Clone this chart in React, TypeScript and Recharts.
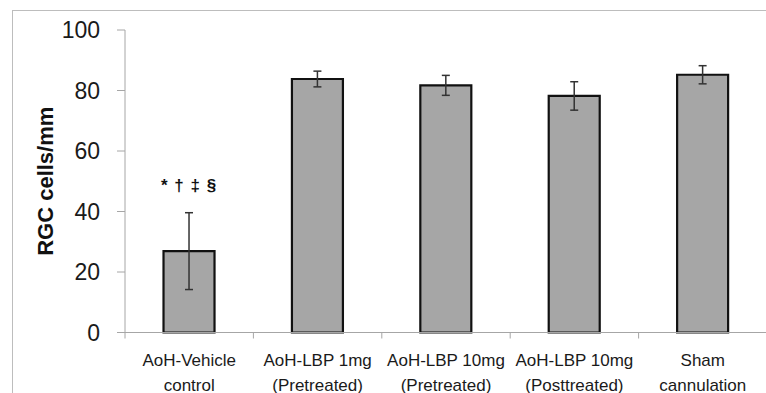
import React from 'react';
import { BarChart, Bar, XAxis, YAxis, ErrorBar, LabelList } from 'recharts';

const categories = [
  'AoH-Vehicle\ncontrol',
  'AoH-LBP 1mg\n(Pretreated)',
  'AoH-LBP 10mg\n(Pretreated)',
  'AoH-LBP 10mg\n(Posttreated)',
  'Sham\ncannulation',
];
const rgcValues = [26.9, 83.8, 81.7, 78.2, 85.2];
const rgcErrors = [12.7, 2.6, 3.3, 4.7, 3.0];
const notes = ['* † ‡ §', '', '', '', ''];
const yTicks = [0, 20, 40, 60, 80, 100];

const data = categories.map((name, i) => ({
  name,
  value: rgcValues[i],
  err: rgcErrors[i],
  note: notes[i],
}));

const FONT = '"Liberation Sans", Arial, sans-serif';
const AXIS_GRAY = '#a6a6a6';
const TICK = 6;

// Excel-style ticks sit on the category boundaries, labels under the centre
const CategoryTick = (props: any) => {
  const { x, y, payload, index } = props;
  const half = payload.offset || 0;
  const lines = String(payload.value).split('\n');
  return (
    <g>
      <line x1={x - half} x2={x - half} y1={y - TICK} y2={y} stroke={AXIS_GRAY} strokeWidth={1} />
      {index === categories.length - 1 && (
        <line x1={x + half} x2={x + half} y1={y - TICK} y2={y} stroke={AXIS_GRAY} strokeWidth={1} />
      )}
      <text x={x} y={y} textAnchor="middle" fontFamily={FONT} fontSize={17} fill="#1a1a1a">
        {lines.map((l, i) => (
          <tspan key={i} x={x} dy={i === 0 ? 27 : 25}>{l}</tspan>
        ))}
      </text>
    </g>
  );
};

const YLabel = ({ viewBox }: any) => {
  const cx = viewBox.x + 45;
  const cy = viewBox.y + viewBox.height / 2;
  return (
    <text
      x={cx}
      y={cy}
      transform={`rotate(-90 ${cx} ${cy})`}
      textAnchor="middle"
      dominantBaseline="central"
      fontFamily={FONT}
      fontWeight="bold"
      fontSize={22}
      fill="#111"
    >
      RGC cells/mm
    </text>
  );
};

export default function App() {
  return (
    <div style={{ position: 'absolute', left: 0, top: 0, width: 766, height: 393, overflow: 'hidden', background: '#fff' }}>
      <div
        style={{
          position: 'absolute',
          left: 12,
          top: 10,
          width: 800,
          height: 420,
          borderTop: '1.5px solid #bdbdbd',
          borderLeft: '1.5px solid #bdbdbd',
        }}
      />
      <div style={{ position: 'absolute', left: 0, top: 0 }}>
        <BarChart
          width={767}
          height={393}
          data={data}
          margin={{ top: 30, right: 0, bottom: 0, left: 0 }}
          barCategoryGap="30%"
        >
          <XAxis
            dataKey="name"
            height={60.5}
            axisLine={{ stroke: AXIS_GRAY, strokeWidth: 1 }}
            tickLine={false}
            tickSize={TICK}
            tickMargin={0}
            interval={0}
            tick={<CategoryTick />}
          />
          <YAxis
            width={125}
            domain={[0, 100]}
            ticks={yTicks}
            interval={0}
            axisLine={{ stroke: AXIS_GRAY, strokeWidth: 1 }}
            tickLine={{ stroke: AXIS_GRAY, strokeWidth: 1 }}
            tickSize={8}
            tickMargin={17}
            tick={{ fontFamily: FONT, fontSize: 23, fill: '#1a1a1a' }}
            label={<YLabel />}
          />
          <Bar dataKey="value" fill="#a6a6a6" stroke="#111" strokeWidth={2.2} isAnimationActive={false}>
            <ErrorBar dataKey="err" width={4} stroke="#333" strokeWidth={1.5} />
            <LabelList
              dataKey="note"
              position="top"
              offset={60}
              style={{ fontFamily: FONT, fontWeight: 'bold', fontSize: 17, letterSpacing: 1, fill: '#111' }}
            />
          </Bar>
        </BarChart>
      </div>
    </div>
  );
}
